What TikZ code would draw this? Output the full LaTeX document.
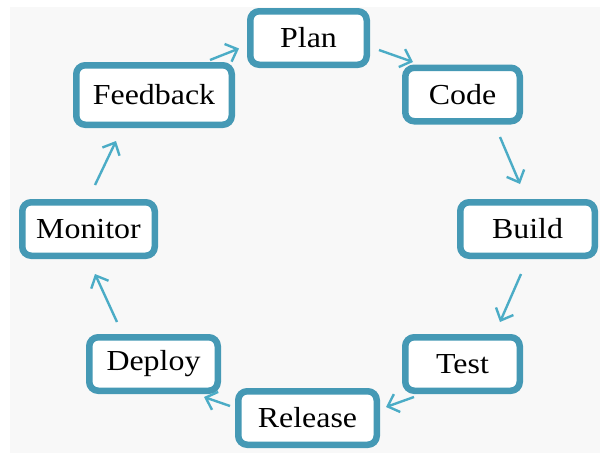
\documentclass[tikz,border=0pt]{standalone}
\usepackage{fontspec}
\setmainfont{Liberation Serif}[FakeStretch=1.1]
\usetikzlibrary{shadows,arrows.meta}
\definecolor{boxc}{HTML}{4599B5}
\definecolor{arrc}{HTML}{4BACC6}
\definecolor{panel}{HTML}{F8F8F8}
\tikzset{
  stage/.style={draw=boxc, line width=6.5pt, fill=white, rounded corners=9pt,
    minimum height=53.5pt, inner sep=0pt, font=\fontsize{29}{31}\selectfont,
    drop shadow={opacity=0.35, shadow xshift=2pt, shadow yshift=-2.5pt, fill=black!60}},
  flow/.style={draw=arrc, line width=2.4pt, -{Straight Barb[length=10pt,width=19pt,line width=2.4pt]}}
}
\begin{document}
\begin{tikzpicture}[x=1pt,y=-1pt]
\useasboundingbox (0,0) rectangle (600,453);
\fill[white] (0,0) rectangle (600,453);
\fill[panel] (10,7) rectangle (600,453);
\node[stage, minimum width=116.5pt] (plan) at (308.5,38) {Plan};
\node[stage, minimum width=114.5pt] (code) at (462.5,94.5) {Code};
\node[stage, minimum width=134.5pt] (build) at (527.5,229) {Build};
\node[stage, minimum width=114.5pt] (test) at (462.5,364) {Test};
\node[stage, minimum width=138.5pt] (release) at (307.5,418) {Release};
\node[stage, minimum width=128.5pt] (deploy) at (153.5,364) {Deploy};
\node[stage, minimum width=132.5pt] (monitor) at (88.5,229) {Monitor};
\node[stage, minimum width=155.5pt, minimum height=59.5pt] (feedback) at (154,95) {Feedback};
\coordinate (fp1) at (210,60); \coordinate (fp2) at (239,48.5);
\coordinate (pc1) at (379,50); \coordinate (pc2) at (413,62);
\coordinate (cb1) at (500,137); \coordinate (cb2) at (520,184);
\coordinate (bt1) at (521,274); \coordinate (bt2) at (500,322);
\coordinate (tr1) at (414,397); \coordinate (tr2) at (386,407);
\coordinate (rd1) at (230,406); \coordinate (rd2) at (204,397);
\coordinate (dm1) at (117,322); \coordinate (dm2) at (95,274);
\coordinate (mf1) at (95,185); \coordinate (mf2) at (116,141);
\draw[flow] (fp1) -- (fp2);
\draw[flow] (pc1) -- (pc2);
\draw[flow] (cb1) -- (cb2);
\draw[flow] (bt1) -- (bt2);
\draw[flow] (tr1) -- (tr2);
\draw[flow] (rd1) -- (rd2);
\draw[flow] (dm1) -- (dm2);
\draw[flow] (mf1) -- (mf2);
\end{tikzpicture}
\end{document}
